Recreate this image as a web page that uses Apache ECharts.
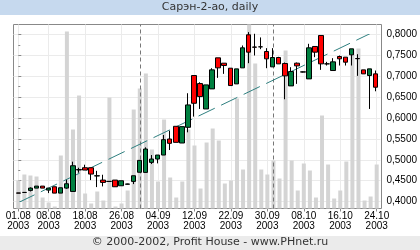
<!DOCTYPE html>
<html><head><meta charset="utf-8">
<script src="https://cdn.jsdelivr.net/npm/echarts@6/dist/echarts.min.js"></script>
<style>html,body{margin:0;padding:0;background:#fff}#c{width:420px;height:250px}</style>
</head><body><div id="c"></div>
<script>
const titleText = 'Сарэн-2-ао, daily';
const footerText = '© 2000-2002, Profit House - www.PHnet.ru';
const dates = ['01.08.2003','04.08.2003','05.08.2003','06.08.2003','07.08.2003','08.08.2003','11.08.2003','12.08.2003','13.08.2003','14.08.2003',
  '15.08.2003','18.08.2003','19.08.2003','20.08.2003','21.08.2003','22.08.2003','25.08.2003','26.08.2003','27.08.2003','28.08.2003',
  '01.09.2003','02.09.2003','03.09.2003','04.09.2003','05.09.2003','08.09.2003','09.09.2003','10.09.2003','11.09.2003','12.09.2003',
  '15.09.2003','16.09.2003','17.09.2003','18.09.2003','19.09.2003','22.09.2003','23.09.2003','24.09.2003','25.09.2003','26.09.2003',
  '29.09.2003','30.09.2003','01.10.2003','02.10.2003','03.10.2003','06.10.2003','07.10.2003','08.10.2003','09.10.2003','10.10.2003',
  '13.10.2003','14.10.2003','15.10.2003','16.10.2003','17.10.2003','20.10.2003','21.10.2003','22.10.2003','23.10.2003','24.10.2003'];
const openP = [0.4205,0.4217,0.4265,0.4321,0.4369,0.4273,0.4353,0.4201,0.4321,0.4241,
  0.4755,0.4809,0.4809,0.4612,0.4513,0.4481,0.4513,0.4377,0.4414,0.4481,
  0.4700,0.4697,0.4937,0.5017,0.5113,0.5497,0.5801,0.5401,0.5777,0.7017,
  0.6825,0.6217,0.6697,0.7441,0.7313,0.7193,0.6817,0.7201,0.7993,0.7700,
  0.7705,0.7593,0.7225,0.7449,0.7305,0.6769,0.7313,0.7100,0.6937,0.7713,
  0.7977,0.7297,0.7137,0.7473,0.7457,0.7513,0.7425,0.7153,0.7017,0.7057];
const closeP = [0.4200,0.4217,0.4321,0.4369,0.4321,0.4321,0.4201,0.4329,0.4425,0.4857,
  0.4765,0.4753,0.4657,0.4617,0.4457,0.4481,0.4353,0.4497,0.4419,0.4617,
  0.4985,0.5257,0.5017,0.5113,0.5481,0.5393,0.5417,0.5793,0.6313,0.6353,
  0.6513,0.6793,0.7153,0.7201,0.7257,0.6777,0.7177,0.7681,0.7577,0.7695,
  0.7705,0.7417,0.7449,0.7297,0.7009,0.7113,0.7249,0.7105,0.7681,0.7577,
  0.7297,0.7297,0.7345,0.7417,0.7337,0.7657,0.7420,0.7057,0.7177,0.6737];
const lowP = [0.4200,0.4217,0.4241,0.4321,0.4321,0.4201,0.4201,0.4201,0.4305,0.4241,
  0.4689,0.4753,0.4513,0.4345,0.4361,0.4475,0.4353,0.4377,0.4410,0.4417,
  0.4700,0.4697,0.4897,0.4913,0.5113,0.5233,0.5417,0.5401,0.5657,0.6033,
  0.6217,0.6217,0.6697,0.6961,0.7057,0.6777,0.6817,0.7201,0.7313,0.7497,
  0.7648,0.7193,0.7225,0.7297,0.6449,0.6769,0.6817,0.7090,0.6937,0.7457,
  0.7153,0.7257,0.7137,0.7257,0.7257,0.7257,0.7010,0.7057,0.6217,0.6640];
const highP = [0.4205,0.4217,0.4337,0.4369,0.4369,0.4321,0.4353,0.4329,0.4520,0.4953,
  0.4809,0.4881,0.4809,0.4735,0.4641,0.4487,0.4513,0.4497,0.4425,0.4617,
  0.4995,0.5297,0.5113,0.5113,0.5593,0.5697,0.5801,0.5793,0.6593,0.7017,
  0.6857,0.6793,0.7193,0.7441,0.7313,0.7193,0.7177,0.7737,0.8057,0.8017,
  0.7930,0.7673,0.7673,0.7465,0.7329,0.7217,0.7329,0.7115,0.7777,0.7713,
  0.7977,0.7345,0.7433,0.7497,0.7457,0.7657,0.7528,0.7153,0.7177,0.7137];
const volume = [28,34,33,32,11,6,2,53,177,79,
  113,15,5,17,8,111,2,5,18,99,
  120,135,59,27,89,31,11,27,79,63,
  20,66,80,68,25,28,110,39,190,145,
  39,34,48,30,158,48,18,45,38,11,
  93,44,10,18,47,159,160,8,12,44];
const labelIdx = [0,5,11,17,23,29,35,41,47,53,59];
const trendX = [0, 59];
const trendY = [0.3973, 0.8085];
const priceMin = 0.4, priceMax = 0.8, priceStep = 0.05;
const volMax = 184;

const monthStarts = [];
for (let i = 1; i < dates.length; i++) {
  if (dates[i].slice(3,5) !== dates[i-1].slice(3,5)) monthStarts.push(i);
}
const candleData = dates.map((d, i) => [i, openP[i], closeP[i], lowP[i], highP[i]]);
const volData = volume.map((v, i) => [i, v]);
const trendData = trendX.map((x, i) => [x, trendY[i]]);

const xMin = -0.79, xMax = 59.79;
const lblFont = "'Liberation Sans Narrow', 'Liberation Sans', Arial, sans-serif";

const chart = echarts.init(document.getElementById('c'), null, {renderer: 'canvas'});
chart.setOption({
  animation: false,
  backgroundColor: '#fff',
  graphic: [
    {type: 'rect', left: 0, top: 0, shape: {width: 420, height: 15}, style: {fill: '#c6d9ee'}, z: -10},
    {type: 'rect', left: 0, top: 236, shape: {width: 420, height: 14}, style: {fill: '#ebebeb'}, z: -10}
  ],
  title: [
    {text: titleText, left: 'center', top: 1, padding: 0,
     textStyle: {fontFamily: 'DejaVu Sans', fontSize: 11, fontWeight: 'normal', color: '#333', lineHeight: 13}},
    {text: footerText, left: 'center', top: 236, padding: 0,
     textStyle: {fontFamily: 'DejaVu Sans', fontSize: 11, fontWeight: 'normal', color: '#333', lineHeight: 13}}
  ],
  grid: [
    {left: 13.5, right: 38.5, top: 24.5, bottom: 41.5, show: true, borderColor: '#888', borderWidth: 1, backgroundColor: '#fff'},
    {left: 13.5, right: 38.5, top: 34.5, bottom: 48.5, show: false}
  ],
  xAxis: [
    {type: 'value', gridIndex: 0, min: xMin, max: xMax,
     axisLine: {show: false},
     axisTick: {show: true, customValues: labelIdx, length: 3, lineStyle: {color: '#888'}},
     axisLabel: {customValues: labelIdx, margin: 3, fontSize: 10, lineHeight: 10, color: '#000', fontFamily: lblFont,
       formatter: v => { const d = dates[Math.round(v)]; return d ? d.slice(0,5) + '\n' + d.slice(6) : ''; }},
     splitLine: {show: true, lineStyle: {color: '#ebebeb', width: 1}}},
    {type: 'value', gridIndex: 1, min: xMin, max: xMax, show: false, splitLine: {show: false}}
  ],
  yAxis: [
    {type: 'value', gridIndex: 0, min: 0, max: volMax, show: false, splitLine: {show: false}},
    {type: 'value', gridIndex: 1, min: priceMin, max: priceMax, interval: priceStep, position: 'right',
     axisLine: {show: false},
     axisTick: {show: true, length: 3, lineStyle: {color: '#888'}},
     minorTick: {show: true, splitNumber: 2, length: 2, lineStyle: {color: '#888'}},
     axisLabel: {margin: 6, fontSize: 10, color: '#000', fontFamily: lblFont,
       formatter: v => v.toFixed(4).replace('.', ',')},
     splitLine: {show: true, lineStyle: {color: '#ebebeb', width: 1}}}
  ],
  series: [
    {type: 'bar', name: 'volume', xAxisIndex: 0, yAxisIndex: 0, data: volData, barWidth: 4,
     itemStyle: {color: '#d4d4d4'}, z: 1, silent: true,
     markLine: {silent: true, symbol: 'none', label: {show: false}, z: 2,
       lineStyle: {color: '#777', type: [4, 3], width: 1},
       data: monthStarts.map(i => ({xAxis: i}))}},
    {type: 'line', name: 'trend', xAxisIndex: 1, yAxisIndex: 1, data: trendData, symbol: 'none',
     lineStyle: {color: '#2f8080', width: 1, type: [18, 7]}, z: 3, silent: true},
    {type: 'candlestick', name: 'price', xAxisIndex: 1, yAxisIndex: 1, data: candleData, barWidth: 5, clip: false,
     itemStyle: {color: '#008040', color0: '#ff0000', borderColor: '#000', borderColor0: '#000', borderColorDoji: '#000', borderWidth: 1},
     z: 4}
  ]
});
</script></body></html>
